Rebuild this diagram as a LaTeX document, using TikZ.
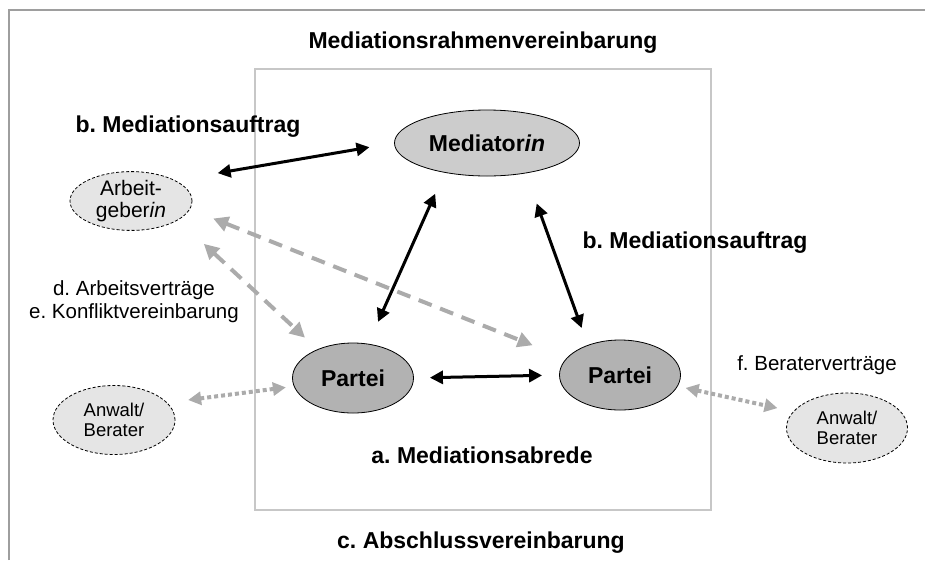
\documentclass[tikz,border=0pt]{standalone}
\usepackage{fontspec}
\setmainfont{Liberation Sans}
\usepackage{tikz}
\usetikzlibrary{shapes, arrows.meta}

\definecolor{framegray}{gray}{0.62}
\definecolor{boxgray}{gray}{0.78}
\definecolor{linkgray}{gray}{0.67}
\frenchspacing

\begin{document}
\begin{tikzpicture}[
    x=1pt, y=-1pt,
    every node/.style={anchor=center, inner sep=0pt, align=center},
    lbl/.style={anchor=base, font=\fontsize{23}{27}\selectfont\bfseries},
    note/.style={anchor=base, font=\fontsize{20.5}{23}\selectfont},
    person/.style={ellipse, draw, line width=0.8pt, fill=gray!40, minimum width=185pt, minimum height=66pt, font=\fontsize{23}{27}\selectfont\bfseries},
    party/.style={ellipse, draw, line width=0.8pt, fill=gray!60, minimum width=121pt, minimum height=70pt, font=\fontsize{23}{27}\selectfont\bfseries},
    outside/.style={ellipse, draw, line width=0.8pt, dash pattern=on 3pt off 2pt, fill=gray!20, minimum width=122pt},
    link/.style={{Triangle[length=13pt,width=13pt]}-{Triangle[length=13pt,width=13pt]}, line width=3pt},
    side/.style={{Triangle[length=15pt,width=15pt]}-{Triangle[length=15pt,width=15pt]}, line width=4pt, linkgray, dash pattern=on 14pt off 9pt},
    advice/.style={{Triangle[length=13pt,width=13pt]}-{Triangle[length=13pt,width=13pt]}, line width=4pt, linkgray, dash pattern=on 4pt off 3pt}
    ]

    \useasboundingbox (0,0) rectangle (925,560);
    \draw[framegray, line width=2pt] (9,560) -- (9,10) -- (926,10);
    \draw[boxgray, line width=1.5pt] (255,69) rectangle (711,510);

    % parties
    \node[person] (med) at (487,143) {Mediator\textit{in}};
    \node[party] (parteiL) at (353,378) {Partei};
    \node[party] (parteiR) at (620,375) {Partei};
    \node[outside, minimum height=57pt, font=\fontsize{21}{22}\selectfont] (arbg) at (131,201) {Arbeit-\\geber\textit{in}};
    \node[outside, minimum height=69pt, font=\fontsize{18.5}{20}\selectfont] (anwL) at (114,420) {Anwalt/\\Berater};
    \node[outside, minimum width=121pt, minimum height=70pt, font=\fontsize{18.5}{20}\selectfont] (anwR) at (847,428) {Anwalt/\\Berater};

    % labels
    \node[lbl] (titel) at (483,48) {Mediationsrahmenvereinbarung};
    \node[lbl] (auftragL) at (188,132) {b. Mediationsauftrag};
    \node[lbl] (auftragR) at (695,248) {b. Mediationsauftrag};
    \node[note] (vertrag) at (134,295) {d. Arbeitsverträge};
    \node[note] (konflikt) at (134,318) {e. Konfliktvereinbarung};
    \node[note] (berater) at (817,370) {f. Beraterverträge};
    \node[lbl] (abrede) at (482,463) {a. Mediationsabrede};
    \node[lbl] (abschluss) at (481,548) {c. Abschlussvereinbarung};

    % contracts
    \draw[link, shorten <=43pt, shorten >=25pt] (arbg.25) -- (med.west);
    \draw[link, shorten <=24pt, shorten >=23pt] (parteiL.66) -- (med.215);
    \draw[link, shorten <=18pt, shorten >=32pt] (parteiR.137) -- (med.322);
    \draw[link, shorten <=16pt, shorten >=17pt] (parteiL.east) -- (parteiR.west);
    \draw[side, shorten <=25pt, shorten >=36pt] (arbg.352) -- (parteiR.163);
    \draw[side, shorten <=35pt, shorten >=17pt] (arbg.338) -- (parteiL.141);
    \draw[advice, shorten <=21pt, shorten >=8pt] (anwL.18) -- (parteiL.188);
    \draw[advice, shorten <=8pt, shorten >=16pt] (parteiR.349) -- (anwR.163);

\end{tikzpicture}
\end{document}
